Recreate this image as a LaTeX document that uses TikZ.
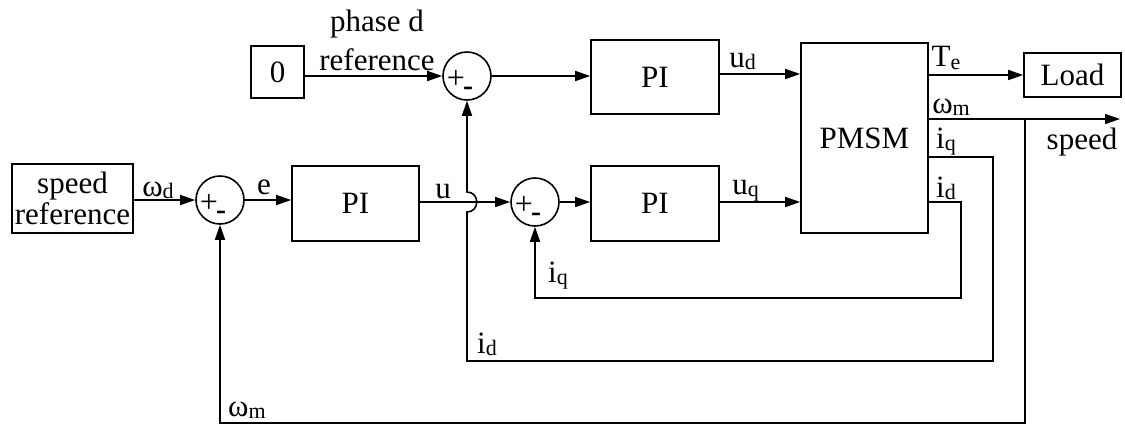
\documentclass[tikz,border=0pt]{standalone}
\usepackage{fontspec}
\setmainfont{Liberation Serif}
\usetikzlibrary{arrows.meta}
\newcommand{\lsub}[1]{\raisebox{-0.15ex}{\fontsize{11pt}{11pt}\selectfont #1}}

\begin{document}
\begin{tikzpicture}[x=0.5pt, y=-0.5pt, line width=0.8pt,
    every node/.style={font=\fontsize{15.5pt}{15.5pt}\selectfont},
    blk/.style={draw, inner sep=0pt, align=center},
    sumnode/.style={draw, circle, minimum size=24pt, inner sep=0pt},
    sig/.style={-{Triangle[length=7.5pt,width=5pt]}}]
    \useasboundingbox (0,0) rectangle (1125,425);

    \node[blk, minimum width=60.5pt, minimum height=34.5pt] (spdref) at (72.5,198.5) {speed\\reference};
    \node[blk, minimum width=26.5pt, minimum height=26pt] (zero) at (277.5,72) {0};
    \node[blk, minimum width=63.5pt, minimum height=37.5pt] (pi1) at (355.5,203.5) {PI};
    \node[blk, minimum width=64pt, minimum height=37pt] (pi2) at (655,77) {PI};
    \node[blk, minimum width=64pt, minimum height=37.5pt] (pi3) at (655,203.5) {PI};
    \node[blk, minimum width=63.5pt, minimum height=95pt] (pmsm) at (864.5,138) {PMSM};
    \node[blk, minimum width=48.5pt, minimum height=22pt] (load) at (1072.5,75) {Load};

    \node[sumnode] (sum1) at (220,200) {};
    \node[sumnode] (sum2) at (467,76) {};
    \node[sumnode] (sum3) at (535,202) {};
    \foreach \s in {sum1,sum2,sum3} {
        \node[font=\fontsize{16pt}{16pt}\selectfont] (\s-plus) at ([xshift=-5.5pt,yshift=-1.5pt]\s.center) {+};
        \node[font=\fontsize{15pt}{15pt}\selectfont\bfseries] (\s-minus) at ([xshift=0.5pt,yshift=-7.5pt]\s.center) {-};
    }

    \coordinate (pmsm-te) at (pmsm.east |- load);
    \coordinate (pmsm-wm) at ([yshift=9.5pt]pmsm.east);
    \coordinate (pmsm-iq) at ([yshift=-9.5pt]pmsm.east);
    \coordinate (pmsm-id) at ([yshift=-32pt]pmsm.east);
    \coordinate (br) at (1025,119);
    \coordinate (spdout) at (1120,119);
    \coordinate (jmp) at (sum2 |- sum3);

    % forward path
    \draw[sig] (spdref.east |- sum1) -- (sum1);
    \draw[sig] (sum1) -- (pi1.west |- sum1);
    \draw[sig] (pi1.east |- sum3) -- (sum3);
    \draw[sig] (sum3) -- (pi3.west |- sum3);
    \draw[sig] (pi3.east |- sum3) -- (pmsm.west |- sum3);
    \draw[sig] (zero.east |- sum2) -- (sum2);
    \draw[sig] (sum2) -- (pi2.west |- sum2);
    \draw[sig] (pi2.east |- 0,74) -- (pmsm.west |- 0,74);
    \draw[sig] (pmsm-te) -- (load);
    \draw[sig] (pmsm-wm) -- (spdout);

    % feedback
    \draw[sig] (pmsm-iq) -| (993,361) -| ([yshift=-5pt]jmp)
        .. controls +(13,0) and +(13,0) .. ([yshift=5pt]jmp) -- (sum2);
    \draw[sig] (pmsm-id) -| (961,298) -| (sum3);
    \draw[sig] (br) |- (sum1 |- 0,423) -- (sum1);

    \node (lwd) at (158,190) {ω\lsub{d}};
    \node (le) at (264,187.5) {e};
    \node (lu) at (443,192) {u};
    \node[align=center, font=\fontsize{15.5pt}{19.5pt}\selectfont] (lphase) at (377,40) {phase d\\reference};
    \node (lud) at (742.5,61.5) {u\lsub{d}};
    \node (luq) at (745.5,191) {u\lsub{q}};
    \node (lte) at (946,58) {T\lsub{e}};
    \node (lwm) at (951,107) {ω\lsub{m}};
    \node (liq) at (946,142) {i\lsub{q}};
    \node (lid) at (946,188.5) {i\lsub{d}};
    \node (lspd) at (1082,142) {speed};
    \node (liqb) at (558,276) {i\lsub{q}};
    \node (lidb) at (487,344) {i\lsub{d}};
    \node (lwmb) at (247,410) {ω\lsub{m}};
\end{tikzpicture}
\end{document}
